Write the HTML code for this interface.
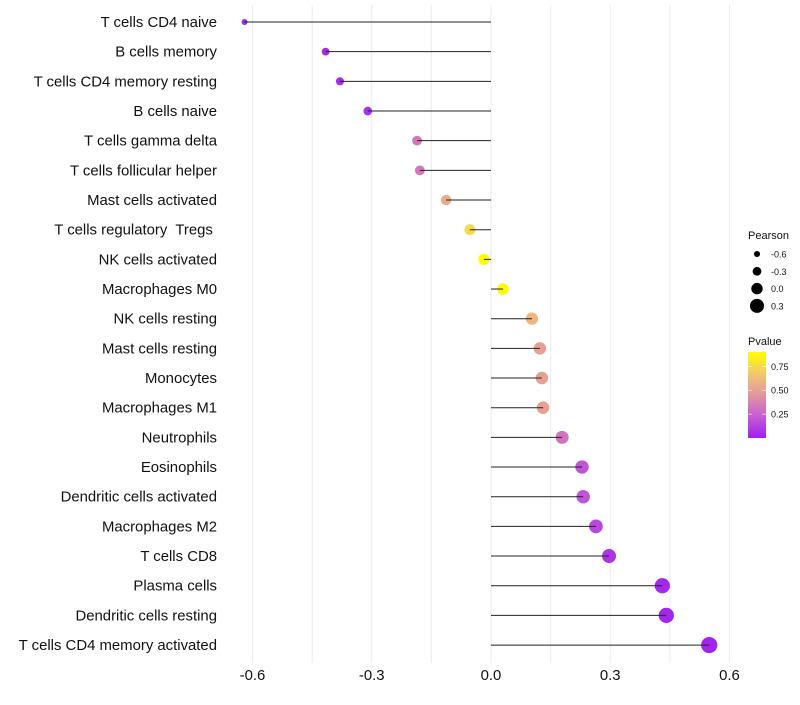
<!DOCTYPE html>
<html><head><meta charset="utf-8"><style>
body{margin:0;background:#fff;}
svg text{font-family:"Liberation Sans",sans-serif;white-space:pre;}
</style></head><body>
<svg id="chart" width="800" height="700"></svg>
<script>
const categories=["T cells CD4 naive","B cells memory","T cells CD4 memory resting","B cells naive","T cells gamma delta","T cells follicular helper","Mast cells activated","T cells regulatory  Tregs ","NK cells activated","Macrophages M0","NK cells resting","Mast cells resting","Monocytes","Macrophages M1","Neutrophils","Eosinophils","Dendritic cells activated","Macrophages M2","T cells CD8","Plasma cells","Dendritic cells resting","T cells CD4 memory activated"];
const pearson=[-0.62,-0.416,-0.38,-0.31,-0.186,-0.179,-0.113,-0.053,-0.018,0.030,0.103,0.123,0.128,0.131,0.179,0.229,0.232,0.264,0.297,0.431,0.441,0.549];
const pvalue=[0.01,0.03,0.04,0.06,0.33,0.33,0.55,0.75,0.92,0.88,0.6,0.5,0.5,0.5,0.32,0.2,0.2,0.15,0.08,0.03,0.02,0.01];
const xTicks=[-0.6,-0.3,0.0,0.3,0.6];
const xTickLabels=["-0.6","-0.3","0.0","0.3","0.6"];
const sizeLegend=[-0.6,-0.3,0.0,0.3];
const sizeLegendLabels=["-0.6","-0.3","0.0","0.3"];
const colorLegend=[0.25,0.5,0.75];
const colorLegendLabels=["0.25","0.50","0.75"];

const NS="http://www.w3.org/2000/svg";
const svg=document.getElementById('chart');
function mk(t,a,p){const e=document.createElementNS(NS,t);for(const k in a)e.setAttribute(k,a[k]);(p||svg).appendChild(e);return e;}
const x=v=>491+(v)*397.5;
const y=i=>22+i*29.67;
const r=v=>Math.max(1.7,5.7+4.4*v);
const stops=[[0,[160,32,240]],[0.25,[196,92,212]],[0.5,[226,150,160]],[0.75,[243,200,110]],[1,[255,255,0]]];
function col(p){let t=Math.min(1,Math.max(0,p/0.9));for(let i=0;i<stops.length-1;i++){const a=stops[i],b=stops[i+1];if(t<=b[0]){const f=(t-a[0])/(b[0]-a[0]);const c=a[1].map((v,j)=>Math.round(v+(b[1][j]-v)*f));return `rgb(${c.join(',')})`;}}return 'rgb(255,255,0)';}
const cy=p=>438-p/0.9*86;

for(let v=-0.6;v<=0.61;v+=0.15){const g=mk('line',{x1:x(v),x2:x(v),y1:5,y2:663,stroke:'#ebebeb','stroke-width':1});

}
xTicks.forEach((v,i)=>{const t=mk('text',{x:x(v),y:680,'text-anchor':'middle','font-size':14.9,fill:'#111'});t.textContent=xTickLabels[i];

});
categories.forEach((c,i)=>{
const t=mk('text',{x:217,y:y(i)+5,'text-anchor':'end','font-size':14.9,fill:'#111'});t.textContent=c;


const pt=mk('circle',{cx:x(pearson[i]),cy:y(i),r:r(pearson[i]),fill:col(pvalue[i])});


const ln=mk('line',{x1:x(0),x2:x(pearson[i]),y1:y(i),y2:y(i),stroke:'#222','stroke-width':1});


});
let lt=mk('text',{x:748,y:239,'font-size':11,fill:'#111'});lt.textContent='Pearson';


sizeLegend.forEach((v,i)=>{const yy=254+i*17.3;
const c=mk('circle',{cx:757,cy:yy,r:r(v),fill:'#000'});


const t=mk('text',{x:771,y:yy+3.5,'font-size':9,fill:'#111'});t.textContent=sizeLegendLabels[i];

});
let ct=mk('text',{x:748,y:345,'font-size':11,fill:'#111'});ct.textContent='Pvalue';


const defs=mk('defs',{});const lg=mk('linearGradient',{id:'pg',x1:0,y1:1,x2:0,y2:0},defs);
stops.forEach(s=>mk('stop',{offset:s[0],'stop-color':`rgb(${s[1].join(',')})`},lg));
const bar=mk('rect',{x:748,y:352,width:18,height:86,fill:'url(#pg)'});


colorLegend.forEach((v,i)=>{mk('line',{x1:748,x2:752,y1:cy(v),y2:cy(v),stroke:'#fff','stroke-width':0.6});mk('line',{x1:762,x2:766,y1:cy(v),y2:cy(v),stroke:'#fff','stroke-width':0.6});
const t=mk('text',{x:771,y:cy(v)+3.5,'font-size':9,fill:'#111'});t.textContent=colorLegendLabels[i];

});
</script>
</body></html>
